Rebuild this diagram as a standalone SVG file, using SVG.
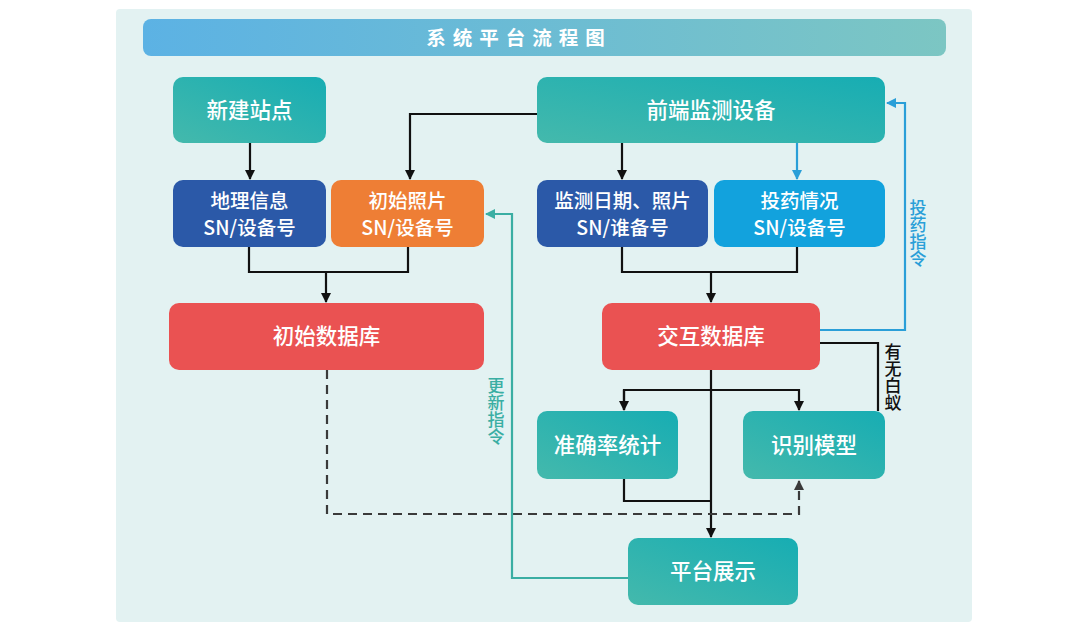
<svg xmlns="http://www.w3.org/2000/svg" width="1080" height="638" viewBox="0 0 1080 638">
<defs>
<linearGradient id="gTitle" x1="0" y1="0" x2="1" y2="0"><stop offset="0" stop-color="#5cb2e4"/><stop offset="1" stop-color="#7cc6c3"/></linearGradient>
<linearGradient id="gTeal" x1="0" y1="1" x2="1" y2="0"><stop offset="0" stop-color="#44b9ac"/><stop offset="1" stop-color="#17adb3"/></linearGradient>
<marker id="aBlack" viewBox="0 0 10 10" refX="9" refY="5" markerWidth="10" markerHeight="10" markerUnits="userSpaceOnUse" orient="auto"><path d="M0,0 L10,5 L0,10 Z" fill="#111"/></marker>
<marker id="aBlue" viewBox="0 0 10 10" refX="9" refY="5" markerWidth="10" markerHeight="10" markerUnits="userSpaceOnUse" orient="auto"><path d="M0,0 L10,5 L0,10 Z" fill="#2a9fd8"/></marker>
<marker id="aTeal" viewBox="0 0 10 10" refX="9" refY="5" markerWidth="10" markerHeight="10" markerUnits="userSpaceOnUse" orient="auto"><path d="M0,0 L10,5 L0,10 Z" fill="#3aaea3"/></marker>
<marker id="aGray" viewBox="0 0 10 10" refX="9" refY="5" markerWidth="10" markerHeight="10" markerUnits="userSpaceOnUse" orient="auto"><path d="M0,0 L10,5 L0,10 Z" fill="#3a3a3a"/></marker>
</defs>
<style>
text{font-family:"Noto Sans CJK SC","Noto Sans",sans-serif;}
.lbl{fill:#fff;font-size:21.5px;font-weight:500;text-anchor:middle;}
.lbl2{fill:#fff;font-size:19.5px;font-weight:500;text-anchor:middle;}
.teal{fill:url(#gTeal);}
.dblue{fill:#2b59a8;}
.orange{fill:#ee7e35;}
.lblue{fill:#12a2dd;}
.red{fill:#ea5252;}
.k{fill:none;stroke:#111;stroke-width:2.2;}
.b{fill:none;stroke:#2a9fd8;stroke-width:2.2;}
.t{fill:none;stroke:#3aaea3;stroke-width:2.2;}
.d{fill:none;stroke:#3a3a3a;stroke-width:2.2;stroke-dasharray:9 6;}
.vt{font-size:17px;font-weight:500;writing-mode:vertical-rl;text-anchor:start;}
</style>
<rect x="0" y="0" width="1080" height="638" fill="#ffffff"/>
<rect x="116" y="9" width="856" height="613" rx="4" fill="#e3f2f2"/>
<g id="title">
<rect x="143" y="19" width="803" height="37" rx="8" fill="url(#gTitle)"/>
<text x="519" y="45" fill="#fff" font-size="19.5" font-weight="700" text-anchor="middle" letter-spacing="7">系统平台流程图</text>
</g>
<g id="connectors">
<path class="k" d="M250,143 V179" marker-end="url(#aBlack)"/>
<path class="k" d="M537,114 H410 V179" marker-end="url(#aBlack)"/>
<path class="k" d="M622,143 V179" marker-end="url(#aBlack)"/>
<path class="b" d="M797,143 V179" marker-end="url(#aBlue)"/>
<path class="k" d="M249,247 V272 H408 V247"/>
<path class="k" d="M326,272 V302" marker-end="url(#aBlack)"/>
<path class="k" d="M622,247 V272 H797 V247"/>
<path class="k" d="M711,272 V302" marker-end="url(#aBlack)"/>
<path class="b" d="M820,330 H905 V103 H887" marker-end="url(#aBlue)"/>
<path class="k" d="M820,343 H878 V411"/>
<path class="k" d="M711,370 V537" marker-end="url(#aBlack)"/>
<path class="k" d="M624,410 V390 H799 V410" marker-end="url(#aBlack)"/>
<path class="k" d="M624,390 V410" marker-end="url(#aBlack)"/>
<path class="k" d="M624,479 V501 H711"/>
<path class="d" d="M327,370 V514 H799 V481" marker-end="url(#aGray)"/>
<path class="t" d="M628,578 H512 V214 H486" marker-end="url(#aTeal)"/>
<text class="vt" x="918" y="199" fill="#2a9fd8">投药指令</text>
<text class="vt" x="893" y="343" fill="#111">有无白蚁</text>
<text class="vt" x="496" y="377" fill="#3aaea3">更新指令</text>
</g>
<g id="n-xinjian"><rect class="teal" x="173" y="77" width="153" height="66" rx="10"/><text class="lbl" x="249.5" y="117.5">新建站点</text></g>
<g id="n-qianduan"><rect class="teal" x="537" y="77" width="348" height="66" rx="10"/><text class="lbl" x="711" y="117.5">前端监测设备</text></g>
<g id="n-dili"><rect class="dblue" x="173" y="180" width="153" height="67" rx="10"/><text class="lbl2" x="249.5" y="208">地理信息</text><text class="lbl2" x="249.5" y="235">SN/设备号</text></g>
<g id="n-chushizhaopian"><rect class="orange" x="331" y="180" width="153" height="67" rx="10"/><text class="lbl2" x="407.5" y="208">初始照片</text><text class="lbl2" x="407.5" y="235">SN/设备号</text></g>
<g id="n-jiance"><rect class="dblue" x="537" y="180" width="171" height="67" rx="10"/><text class="lbl2" x="622.5" y="208">监测日期、照片</text><text class="lbl2" x="622.5" y="235">SN/谁备号</text></g>
<g id="n-touyao"><rect class="lblue" x="714" y="180" width="171" height="67" rx="10"/><text class="lbl2" x="799.5" y="208">投药情况</text><text class="lbl2" x="799.5" y="235">SN/设备号</text></g>
<g id="n-chushishujuku"><rect class="red" x="169" y="303" width="315" height="67" rx="10"/><text class="lbl" x="326.5" y="344">初始数据库</text></g>
<g id="n-jiaohu"><rect class="red" x="602" y="303" width="218" height="67" rx="10"/><text class="lbl" x="711" y="344">交互数据库</text></g>
<g id="n-zhunque"><rect class="teal" x="537" y="411" width="141" height="68" rx="10"/><text class="lbl" x="607.5" y="452.5">准确率统计</text></g>
<g id="n-shibie"><rect class="teal" x="743" y="411" width="142" height="68" rx="10"/><text class="lbl" x="814" y="452.5">识别模型</text></g>
<g id="n-pingtai"><rect class="teal" x="628" y="538" width="170" height="67" rx="10"/><text class="lbl" x="713" y="579">平台展示</text></g>
</svg>
